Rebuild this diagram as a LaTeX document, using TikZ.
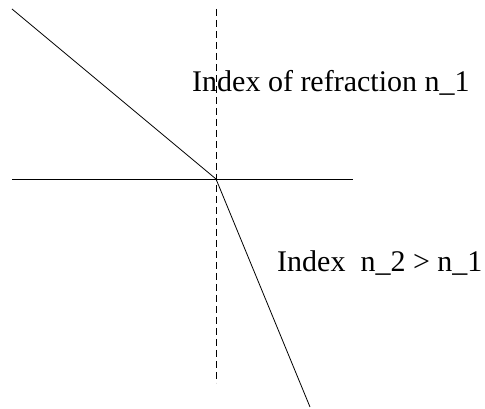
\documentclass[tikz,border=0pt]{standalone}
\usepackage{fontspec}
\setmainfont{Liberation Serif}
\begin{document}
\begin{tikzpicture}[x=1pt,y=1pt,
  ray/.style={line width=0.8pt},
  normal/.style={line width=0.8pt, dash pattern=on 7pt off 4pt},
  lbl/.style={inner sep=0pt, anchor=base west, font=\fontsize{30}{36}\selectfont}]
\useasboundingbox (0,0) rectangle (485,409);
\coordinate (src) at (12,400);
\coordinate (hit) at (216,230);
\coordinate (sl) at (12,230);
\coordinate (sr) at (353,230);
\coordinate (nt) at (216,400);
\coordinate (nb) at (216,26);
\coordinate (out) at (310,2);
\draw[normal] (nt) -- (nb);
\draw[ray] (sl) -- (sr);
\draw[ray] (src) -- (hit) -- (out);
\node[lbl] (t1) at (192,317) {Index of refraction n\_1};
\node[lbl] (t2) at (277,137) {Index\ \ n\_2 > n\_1};
\end{tikzpicture}
\end{document}
